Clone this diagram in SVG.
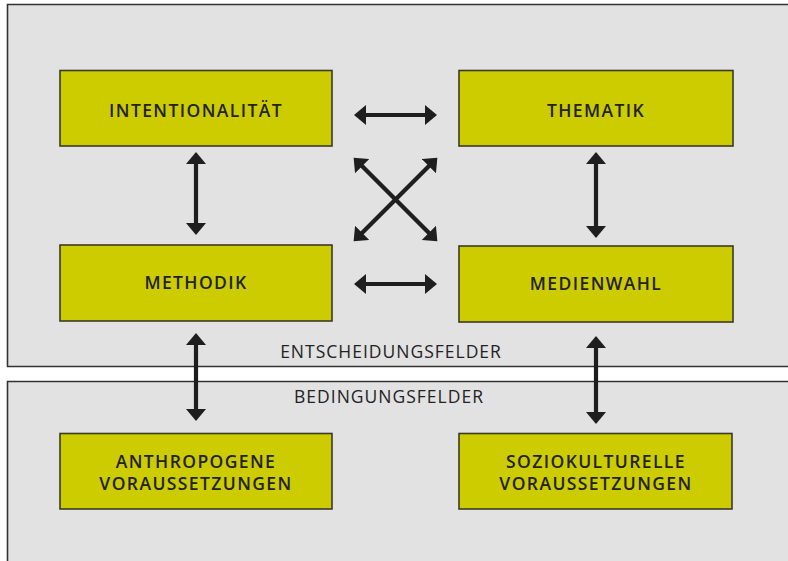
<svg xmlns="http://www.w3.org/2000/svg" width="788" height="561" viewBox="0 0 788 561">
  <style>
    .panel { fill: #e2e2e2; stroke: none; }
    .edge { fill: none; stroke: #333333; stroke-width: 1.6; }
    .box rect { fill: #cccc00; stroke: #3a3a2a; stroke-width: 1.6; }
    .lbl { font-family: "Open Sans", "Liberation Sans", sans-serif; font-weight: 600; font-size: 17.5px; letter-spacing: 1.4px; fill: #222222; text-anchor: middle; }
    .field { font-family: "Open Sans", "Liberation Sans", sans-serif; font-weight: 500; font-size: 17.5px; letter-spacing: 1px; fill: #222222; text-anchor: middle; }
    .conn line { stroke: #1e1e1e; stroke-width: 4.2; marker-start: url(#head); marker-end: url(#head); }
  </style>
  <defs>
    <marker id="head" markerUnits="userSpaceOnUse" markerWidth="13" markerHeight="20" refX="3" refY="10" orient="auto-start-reverse" viewBox="0 0 13 20">
      <path d="M0,0 L12,10 L0,20 z" fill="#1e1e1e"/>
    </marker>
  </defs>

  <rect width="788" height="561" fill="#ffffff"/>

  <!-- Decision fields (upper panel) and condition fields (lower panel) -->
  <g id="entscheidungsfelder">
    <rect class="panel" x="7.5" y="4.5" width="790" height="362"/>
    <path class="edge" d="M790,4.5 H7.5 V366.5 H790"/>
    <text class="field" x="391" y="358">ENTSCHEIDUNGSFELDER</text>
  </g>
  <g id="bedingungsfelder">
    <rect class="panel" x="7.5" y="381.5" width="790" height="190"/>
    <path class="edge" d="M790,381.5 H7.5 V565"/>
    <text class="field" x="389" y="403">BEDINGUNGSFELDER</text>
  </g>

  <!-- Connectors -->
  <g id="connectors" class="conn">
    <line x1="363" y1="115" x2="428" y2="115"/>
    <line x1="363" y1="284" x2="428" y2="284"/>
    <line x1="360" y1="164" x2="431" y2="235"/>
    <line x1="431" y1="164" x2="360" y2="235"/>
    <line x1="196" y1="161" x2="196" y2="226"/>
    <line x1="596" y1="161" x2="596" y2="229"/>
    <line x1="196" y1="342" x2="196" y2="412"/>
    <line x1="596" y1="345" x2="596" y2="415"/>
  </g>

  <!-- Nodes -->
  <g id="intentionalitaet" class="box">
    <rect x="60" y="70.5" width="272" height="75.5"/>
    <text class="lbl" x="196" y="117">INTENTIONALITÄT</text>
  </g>
  <g id="thematik" class="box">
    <rect x="459" y="70.5" width="274" height="75.5"/>
    <text class="lbl" x="596" y="117">THEMATIK</text>
  </g>
  <g id="methodik" class="box">
    <rect x="60" y="245" width="272" height="76"/>
    <text class="lbl" x="196" y="289">METHODIK</text>
  </g>
  <g id="medienwahl" class="box">
    <rect x="459" y="246" width="274" height="76"/>
    <text class="lbl" x="596" y="290">MEDIENWAHL</text>
  </g>
  <g id="anthropogene" class="box">
    <rect x="60" y="433.5" width="272" height="75.5"/>
    <text class="lbl" x="196" y="467.5">ANTHROPOGENE</text>
    <text class="lbl" x="196" y="489.5">VORAUSSETZUNGEN</text>
  </g>
  <g id="soziokulturelle" class="box">
    <rect x="459" y="433.5" width="273" height="75.5"/>
    <text class="lbl" x="596" y="467.5">SOZIOKULTURELLE</text>
    <text class="lbl" x="596" y="489.5">VORAUSSETZUNGEN</text>
  </g>
</svg>
